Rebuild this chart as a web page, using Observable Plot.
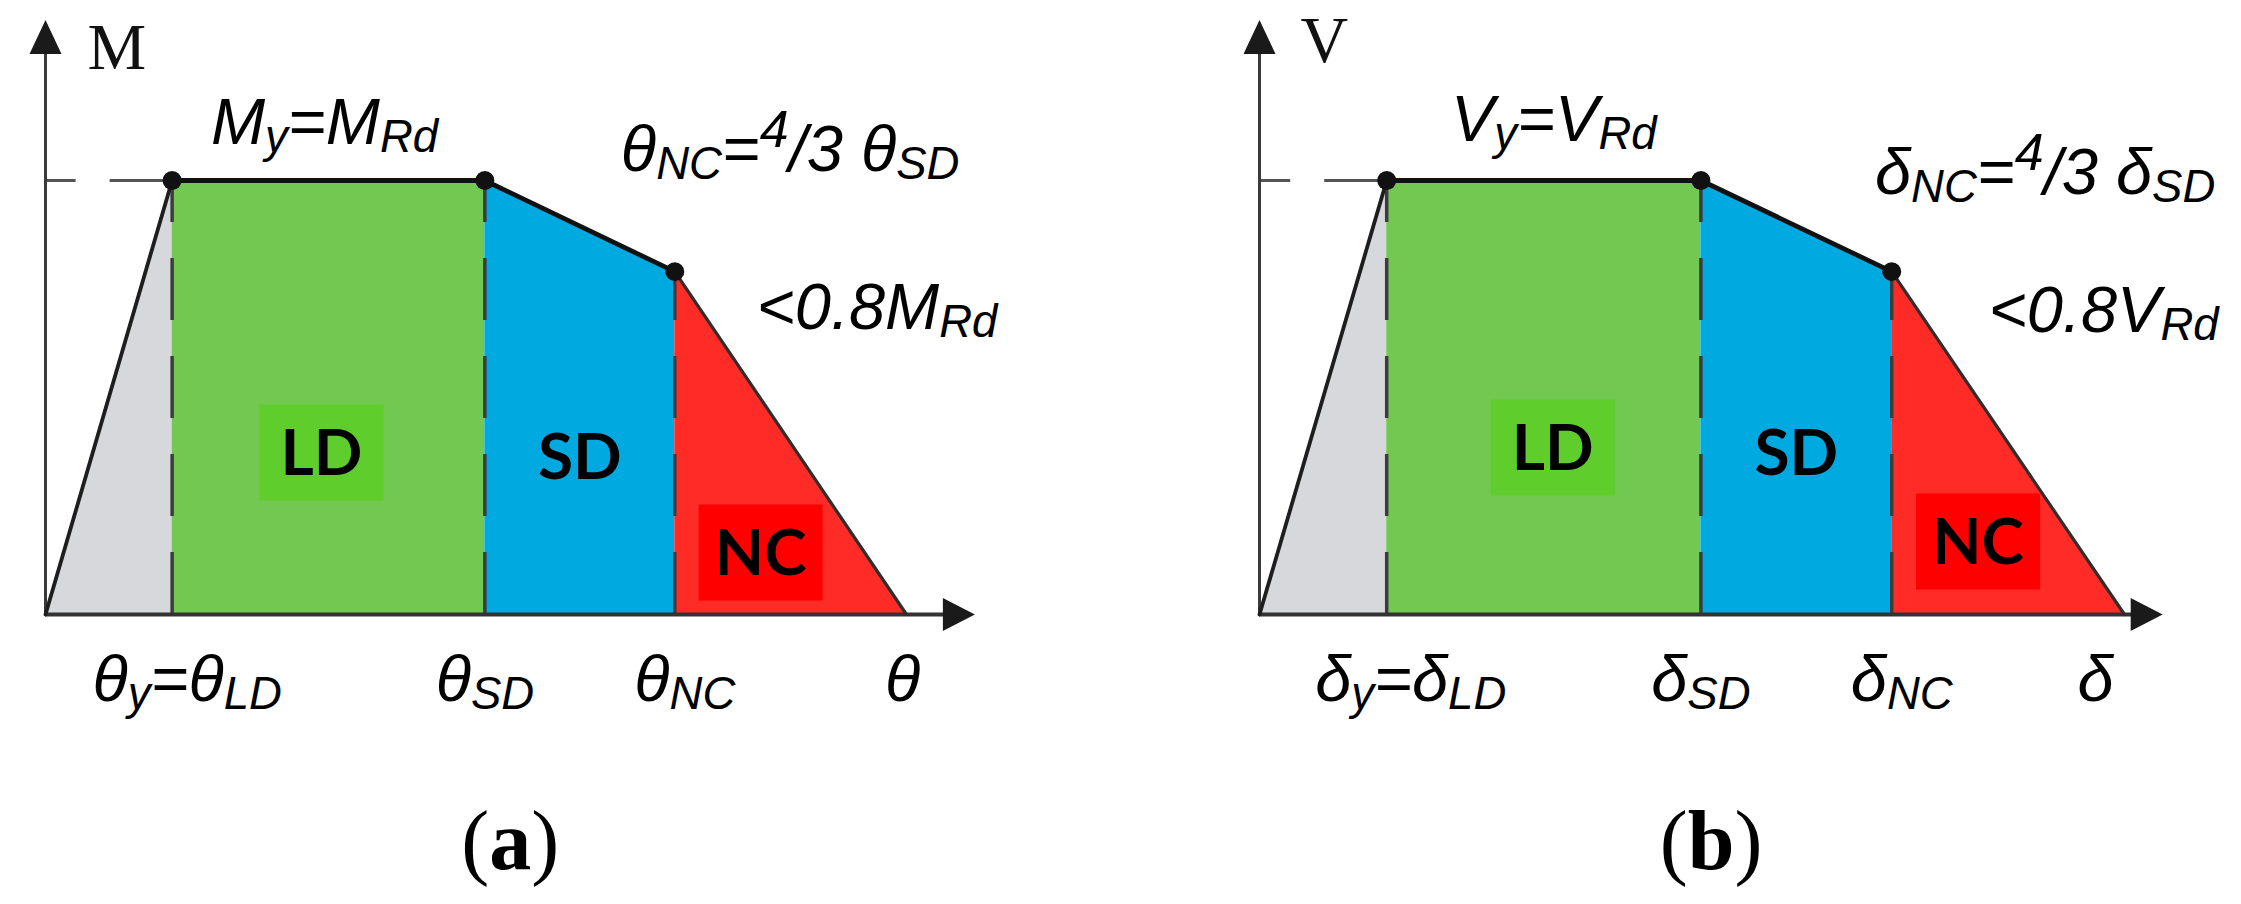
<!DOCTYPE html>
<html>
<head>
<meta charset="utf-8">
<script src="https://cdn.jsdelivr.net/npm/d3@7"></script>
<script src="https://cdn.jsdelivr.net/npm/@observablehq/plot@0.6"></script>
<style>
  html, body { margin: 0; padding: 0; background: #fff; }
  #wrap { display: flex; width: 2241px; height: 904px; overflow: hidden; }
  #wrap svg { display: block; flex: none; }
</style>
</head>
<body>
<div id="wrap"></div>
<script>
// ---------------- data ----------------
// backbone corner points (origin, yield, SD, NC, ultimate), normalised
const deformation = [0, 1, 3.47, 4.97, 6.8];      // in units of θy (δy)
const resistance  = [0, 1, 1, 0.79, 0];           // in units of M_Rd (V_Rd)
// zones between consecutive corners
const zoneNames   = ["", "LD", "SD", "NC"];
const zoneColors  = ["#d6d8db", "#73c852", "#00a9e0", "#ff2b27"];
const zoneBoxes   = [null, "#5fcd2c", null, "#ff0000"];
// axis extents (data units)
const axisEndX    = [7.34, 7.1];
const axisEndY    = [1.37, 1.37];
// texts of the two panels
const axisTitles     = ["M", "V"];
const plateauLabels  = ["M_{y}=M_{Rd}", "V_{y}=V_{Rd}"];
const ratioLabels    = ["θ_{NC}=^{4}/3 θ_{SD}", "δ_{NC}=^{4}/3 δ_{SD}"];
const residualLabels = ["<0.8M_{Rd}", "<0.8V_{Rd}"];
const tickLabelsA    = ["θ_{y}=θ_{LD}", "θ_{SD}", "θ_{NC}", "θ"];
const tickLabelsB    = ["δ_{y}=δ_{LD}", "δ_{SD}", "δ_{NC}", "δ"];
const captions       = ["(*{a})", "(*{b})"];

// ---------------- layout ----------------
const SANS = "'Liberation Sans', Arial, Helvetica, sans-serif";
const SERIF = "'Liberation Serif', 'Times New Roman', Times, serif";
const BOLD = "Lato, 'Open Sans', 'Liberation Sans', sans-serif";
const LABEL_SIZE = 65;

const layouts = [
  { width: 1120, xRange: [45, 906],
    title: {dx: 42, dy: 49},
    plateau: {dx: -4, dy: -37},
    ratio: {dx: 136, dy: -10},
    residual: {dx: 82, dy: 57},
    ticks: [15, 0, 10, -4], tickDy: 86,
    zones: [null, {dx: -7, dy: -162}, {dx: 0, dy: -158}, {dx: -30, dy: -62}] },
  { width: 1121, xRange: [139, 1004],
    title: {dx: 41, dy: 42},
    plateau: {dx: 10, dy: -40},
    ratio: {dx: 174, dy: 13},
    residual: {dx: 97, dy: 60},
    ticks: [24, 0, 10, -29], tickDy: 86,
    zones: [null, {dx: 9, dy: -167}, {dx: 0, dy: -162}, {dx: -30, dy: -73}] }
];

function rectSymbol(w, h) {
  return { draw(ctx) { ctx.rect(-w / 2, -h / 2, w, h); } };
}
function arrowSymbol(len, wid) {
  return { draw(ctx) { ctx.moveTo(0, 0); ctx.lineTo(wid / 2, len); ctx.lineTo(-wid / 2, len); ctx.closePath(); } };
}

function panel(p) {
  const L = layouts[p];
  const pts = deformation.map((d, i) => ({x: d, y: resistance[i]}));
  const ticks = p === 0 ? tickLabelsA : tickLabelsB;
  const marks = [];

  // coloured zones
  for (let i = 0; i < 4; i++) {
    marks.push(Plot.areaY(pts.slice(i, i + 2), {x: "x", y: "y", fill: zoneColors[i]}));
  }
  // label boxes
  for (let i = 1; i < 4; i++) {
    if (!zoneBoxes[i]) continue;
    marks.push(Plot.dot([i], {
      x: (deformation[i] + deformation[i + 1]) / 2, y: 0,
      dx: L.zones[i].dx, dy: L.zones[i].dy,
      symbol: rectSymbol(124, 96), r: 5, fill: zoneBoxes[i], stroke: "none"
    }));
  }
  // dashed limit-state lines
  marks.push(Plot.ruleX(pts.slice(1, 4), {
    x: "x", y1: 0, y2: "y", stroke: "#3c3c3c", strokeWidth: 3.5, strokeDasharray: "62,36"
  }));
  marks.push(Plot.ruleY([pts[1]], {
    y: "y", x1: "x", x2: 0, stroke: "#555", strokeWidth: 3, strokeDasharray: "62,34"
  }));
  // axes
  marks.push(Plot.ruleX([0], {x: 0, y1: 0, y2: axisEndY[p] - 0.03, stroke: "#3a3a3a", strokeWidth: 3}));
  marks.push(Plot.ruleY([0], {y: 0, x1: 0, x2: axisEndX[p] - 0.1, stroke: "#333", strokeWidth: 4}));
  marks.push(Plot.dot([0], {x: 0, y: axisEndY[p], symbol: arrowSymbol(34, 32), r: 5, fill: "#1a1a1a", stroke: "none"}));
  marks.push(Plot.dot([0], {x: axisEndX[p], y: 0, symbol: arrowSymbol(32, 33), rotate: 90, r: 5, fill: "#1a1a1a", stroke: "none"}));
  // backbone curve
  marks.push(Plot.line(pts.slice(0, 2), {x: "x", y: "y", stroke: "#1e1e1e", strokeWidth: 3.8}));
  marks.push(Plot.line(pts.slice(3, 5), {x: "x", y: "y", stroke: "#2e2e2e", strokeWidth: 3.2}));
  marks.push(Plot.line(pts.slice(1, 4), {x: "x", y: "y", stroke: "#111", strokeWidth: 4.8, strokeLinejoin: "round"}));
  marks.push(Plot.dot(pts.slice(1, 4), {x: "x", y: "y", r: 9.5, fill: "#111", stroke: "none"}));

  // zone labels
  for (let i = 1; i < 4; i++) {
    marks.push(Plot.text([zoneNames[i]], {
      x: (deformation[i] + deformation[i + 1]) / 2, y: 0, text: d => d,
      dx: L.zones[i].dx, dy: L.zones[i].dy + 2,
      textAnchor: "middle", lineAnchor: "middle",
      fontFamily: BOLD, fontWeight: "bold", fontSize: 64, fill: "#000"
    }));
  }
  const common = {text: d => d, lineAnchor: "bottom", fontFamily: SANS, fontStyle: "italic", fontSize: LABEL_SIZE, fill: "#000"};
  // axis title
  marks.push(Plot.text([axisTitles[p]], {
    x: 0, y: axisEndY[p], text: d => d, dx: L.title.dx, dy: L.title.dy,
    textAnchor: "start", lineAnchor: "bottom", fontFamily: SERIF, fontSize: 66, fill: "#111"
  }));
  // plateau label
  marks.push(Plot.text([plateauLabels[p]], {
    ...common, x: (deformation[1] + deformation[2]) / 2, y: resistance[1],
    dx: L.plateau.dx, dy: L.plateau.dy, textAnchor: "middle"
  }));
  // ratio label
  marks.push(Plot.text([ratioLabels[p]], {
    ...common, x: deformation[2], y: resistance[2], dx: L.ratio.dx, dy: L.ratio.dy, textAnchor: "start"
  }));
  // residual label
  marks.push(Plot.text([residualLabels[p]], {
    ...common, x: deformation[3], y: resistance[3], dx: L.residual.dx, dy: L.residual.dy, textAnchor: "start"
  }));
  // tick labels under the axis
  for (let i = 0; i < 4; i++) {
    marks.push(Plot.text([ticks[i]], {
      ...common, x: deformation[i + 1], y: 0, dx: L.ticks[i], dy: L.tickDy, textAnchor: "middle"
    }));
  }
  // caption
  marks.push(Plot.text([captions[p]], {
    x: axisEndX[p] / 2, frameAnchor: "bottom", text: d => d, dy: -36,
    textAnchor: "middle", lineAnchor: "bottom", fontFamily: SERIF, fontSize: 84, fill: "#000"
  }));

  return Plot.plot({
    width: L.width, height: 904, margin: 0,
    x: {domain: [0, deformation[4]], range: L.xRange, axis: null},
    y: {domain: [0, 1], range: [614, 180], axis: null},
    style: {background: "#fff", overflow: "visible"},
    marks
  });
}

// turn simple markup (_{sub}, ^{sup}, *{bold}) into tspans
function richify(svg) {
  d3.select(svg).selectAll("text").each(function () {
    const s = this.textContent;
    if (!/[_^*]\{/.test(s)) return;
    const segs = [];
    const re = /([_^*])\{([^}]*)\}|([^_^*]+)/g;
    let m;
    while ((m = re.exec(s))) segs.push(m[1] ? {kind: m[1], text: m[2]} : {kind: "n", text: m[3]});
    this.textContent = "";
    let cur = 0;
    const el = d3.select(this);
    for (const seg of segs) {
      const scale = seg.kind === "_" ? 0.7 : seg.kind === "^" ? 0.8 : 1;
      const shift = seg.kind === "_" ? 0.13 : seg.kind === "^" ? -0.37 : 0;
      const t = el.append("tspan").text(seg.text);
      if (scale !== 1) t.attr("font-size", scale + "em");
      const dy = (shift - cur) / scale;
      if (Math.abs(dy) > 1e-6) t.attr("dy", dy.toFixed(3) + "em");
      cur = shift;
      if (seg.kind === "*") t.attr("font-weight", "bold");
    }
  });
}

const wrap = document.getElementById("wrap");
for (let p = 0; p < 2; p++) {
  const svg = panel(p);
  wrap.appendChild(svg);
  richify(svg);
}
</script>
</body>
</html>
